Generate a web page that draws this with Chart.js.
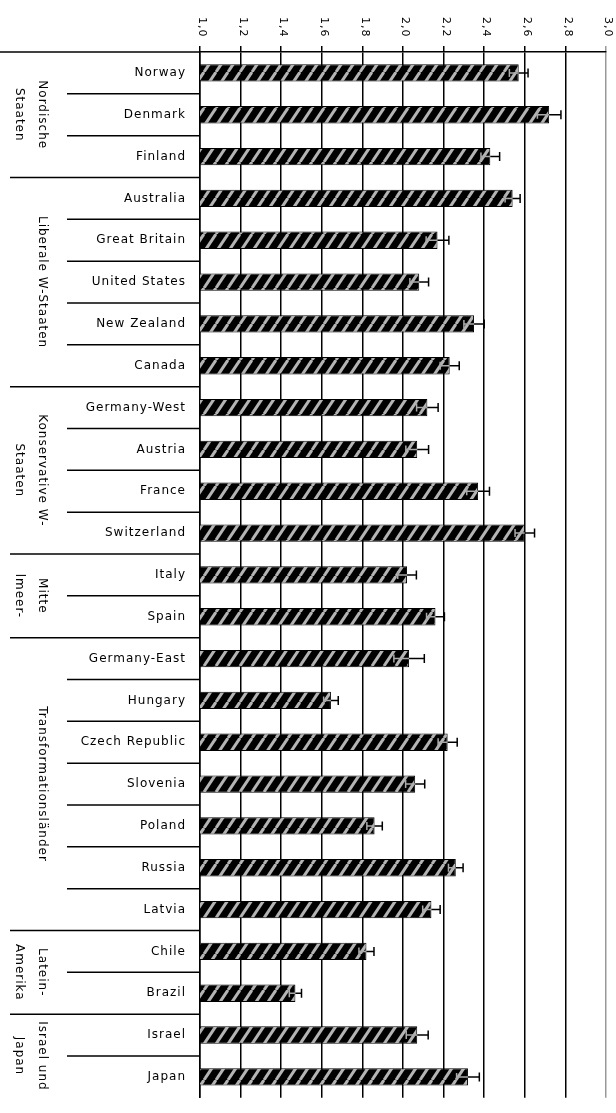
<!DOCTYPE html>
<html><head><meta charset="utf-8">
<script src="https://cdn.jsdelivr.net/npm/chart.js@4.4.1/dist/chart.umd.min.js"></script>
<style>
html,body{margin:0;padding:0;background:#fff;overflow:hidden;}
#wrap{position:relative;width:616px;height:1119px;}
</style></head><body>
<div id="wrap"><canvas id="c"></canvas></div>
<script>
const countries = ['Norway','Denmark','Finland','Australia','Great Britain','United States','New Zealand','Canada','Germany-West','Austria','France','Switzerland','Italy','Spain','Germany-East','Hungary','Czech Republic','Slovenia','Poland','Russia','Latvia','Chile','Brazil','Israel','Japan'];
const means = [2.57,2.72,2.43,2.54,2.17,2.08,2.35,2.23,2.12,2.07,2.37,2.60,2.02,2.16,2.03,1.645,2.22,2.06,1.86,2.26,2.14,1.82,1.47,2.07,2.32];
const errors = [0.046,0.058,0.046,0.037,0.056,0.046,0.05,0.047,0.053,0.056,0.056,0.048,0.046,0.044,0.075,0.036,0.047,0.047,0.038,0.036,0.043,0.037,0.03,0.054,0.056];
const groupLabels = [['Nordische','Staaten'],['Liberale W-Staaten'],['Konservative W-','Staaten'],['Mitte','lmeer-'],['Transformationsländer'],['Latein-','Amerika'],['Israel und','Japan']];
const groupSizes = [3,5,4,2,7,2,2];
const xTickLabels = ['1,0','1,2','1,4','1,6','1,8','2,0','2,2','2,4','2,6','2,8','3,0'];

function makeHatch(){
  const W=12,H=18;
  const c=document.createElement('canvas'); c.width=W; c.height=H;
  const g=c.getContext('2d');
  g.fillStyle='#000'; g.fillRect(0,0,W,H);
  g.strokeStyle='#b4b4b4'; g.lineWidth=3;
  for (const o of [-W,0,W]) { g.beginPath(); g.moveTo(o,H); g.lineTo(o+W,0); g.stroke(); }
  return g.createPattern(c,'repeat');
}

const FONT='"DejaVu Sans", sans-serif';

const decor = {
  id:'decor',
  beforeDraw(chart){ chart.ctx.letterSpacing='1px'; },
  afterDatasetsDraw(chart){
    const ctx=chart.ctx, xs=chart.scales.x;
    const meta=chart.getDatasetMeta(0);
    ctx.save();
    ctx.lineWidth=1.5;
    meta.data.forEach((bar,i)=>{
      const y=bar.y;
      const xl=xs.getPixelForValue(means[i]-errors[i]);
      const xm=xs.getPixelForValue(means[i]);
      const xr=xs.getPixelForValue(means[i]+errors[i]);
      ctx.strokeStyle='#aaa';
      ctx.beginPath(); ctx.moveTo(xl,y); ctx.lineTo(xm,y); ctx.moveTo(xl,y-4); ctx.lineTo(xl,y+4); ctx.stroke();
      ctx.strokeStyle='#000';
      ctx.beginPath(); ctx.moveTo(xm,y); ctx.lineTo(xr,y); ctx.moveTo(xr,y-4.5); ctx.lineTo(xr,y+4.5); ctx.stroke();
    });
    ctx.restore();
  },
  afterDraw(chart){
    const ctx=chart.ctx, xs=chart.scales.x, ys=chart.scales.y, area=chart.chartArea;
    ctx.save();
    ctx.letterSpacing='1px';
    ctx.fillStyle='#000';
    // top tick labels, rotated clockwise
    ctx.font='11px '+FONT;
    xs.ticks.forEach((t,i)=>{
      const px=xs.getPixelForValue(t.value);
      ctx.save(); ctx.translate(px+2,17); ctx.rotate(Math.PI/2);
      ctx.textAlign='left'; ctx.textBaseline='middle';
      ctx.fillText(xTickLabels[i]||'',0,0); ctx.restore();
    });
    // separators
    const n=countries.length;
    const bound=i=> i<=0 ? area.top : (i>=n ? area.bottom : (ys.getPixelForValue(i-1)+ys.getPixelForValue(i))/2);
    const starts=[]; let acc=0; groupSizes.forEach(s=>{starts.push(acc); acc+=s;});
    ctx.strokeStyle='#000'; ctx.lineWidth=1.5;
    for(let i=0;i<n;i++){
      const yb=bound(i);
      let x0 = 67;
      if(i===0) x0=0; else if(starts.includes(i)) x0=10;
      ctx.beginPath(); ctx.moveTo(x0,yb); ctx.lineTo(area.left,yb); ctx.stroke();
    }
    // group labels
    ctx.font='12px '+FONT;
    groupLabels.forEach((lines,g)=>{
      const yc=(bound(starts[g])+bound(starts[g]+groupSizes[g]))/2;
      const xsPos=[42,19];
      lines.forEach((ln,k)=>{
        ctx.save(); ctx.translate(xsPos[k],yc); ctx.rotate(Math.PI/2);
        ctx.textAlign='center'; ctx.textBaseline='middle';
        ctx.fillText(ln,0,0); ctx.restore();
      });
    });
    ctx.restore();
  }
};

new Chart(document.getElementById('c'),{
  type:'bar',
  data:{
    labels:countries,
    datasets:[{
      data:means,
      backgroundColor:makeHatch(),
      borderColor:'#000',
      borderWidth:1,
      barPercentage:0.415,
      categoryPercentage:1
    }]
  },
  options:{
    indexAxis:'y',
    responsive:true,
    maintainAspectRatio:false,
    animation:false,
    layout:{padding:{left:0,right:10,top:0,bottom:0}},
    plugins:{legend:{display:false},tooltip:{enabled:false}},
    scales:{
      x:{
        position:'top',
        min:1,max:3,
        ticks:{stepSize:0.2,display:false},
        grid:{
          color:c=> (c.tick && Math.abs(c.tick.value-3)<1e-6) ? '#999' : '#000',
          lineWidth:1.5,
          drawTicks:true,
          tickLength:6
        },
        border:{display:true,color:'#000',width:1.5},
        afterFit:s=>{s.height=52;}
      },
      y:{
        position:'left',
        ticks:{color:'#000',font:{family:'DejaVu Sans',size:12},padding:14,autoSkip:false},
        grid:{display:false,drawTicks:false},
        border:{display:true,color:'#000',width:1.5},
        afterFit:s=>{s.width=200;}
      }
    }
  },
  plugins:[decor]
});
</script>
</body></html>
